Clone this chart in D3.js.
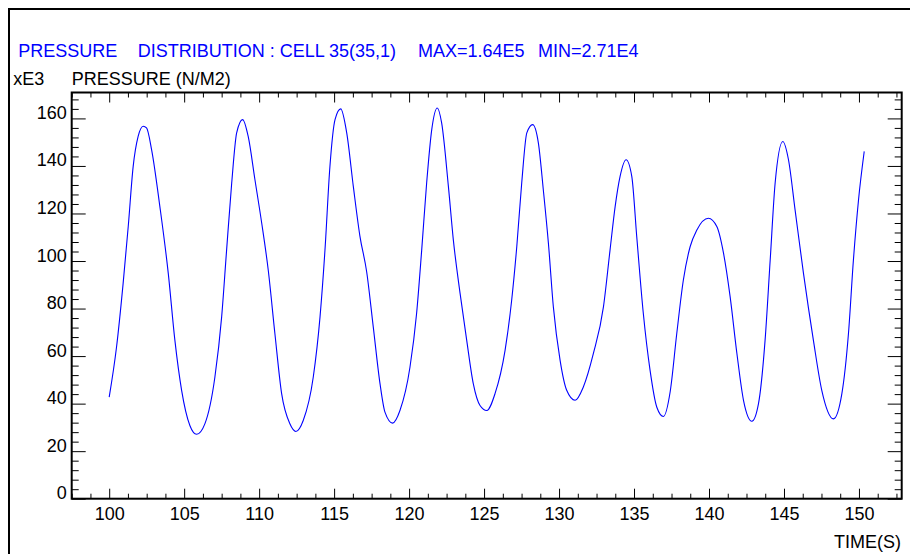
<!DOCTYPE html>
<html>
<head>
<meta charset="utf-8">
<script src="https://cdn.jsdelivr.net/npm/d3@7"></script>
<style>
  body { margin: 0; background: #fff; }
  svg { display: block; font-family: "Liberation Sans", Arial, sans-serif; }
</style>
</head>
<body>
<svg></svg>
<script>
// time (s) and pressure (x1e3 N/m2)
var times = [100.0, 100.49, 100.93, 101.27, 101.6, 101.93, 102.27, 102.49, 102.83, 103.38,
  103.94, 104.38, 104.83, 105.38, 105.83, 106.38, 107.05, 107.5, 107.83, 108.17,
  108.5, 108.9, 109.27, 109.72, 110.17, 110.61, 111.05, 111.5, 112.05, 112.45,
  112.94, 113.61, 114.06, 114.39, 114.72, 115.06, 115.44, 115.84, 116.28, 116.72,
  117.17, 117.61, 118.06, 118.39, 118.9, 119.39, 120.06, 120.5, 120.84, 121.17,
  121.51, 121.88, 122.17, 122.62, 122.95, 123.4, 123.84, 124.28, 124.73, 125.18,
  125.73, 126.4, 126.84, 127.18, 127.51, 127.85, 128.24, 128.62, 128.95, 129.29,
  129.62, 130.07, 130.51, 131.07, 131.62, 132.29, 132.96, 133.4, 133.74, 134.07,
  134.47, 134.85, 135.18, 135.62, 136.07, 136.52, 136.96, 137.41, 137.85, 138.29,
  138.74, 139.19, 139.96, 140.52, 140.97, 141.41, 141.86, 142.3, 142.86, 143.3,
  143.74, 144.08, 144.41, 144.92, 145.3, 145.74, 146.3, 146.96, 147.52, 148.3,
  148.86, 149.3, 149.63, 149.97, 150.35];
var pressure = [42.7, 63.8, 90.6, 114.5, 139.8, 152.4, 156.7, 156.0, 146.8, 122.9,
  94.8, 66.7, 45.6, 30.8, 27.1, 31.5, 51.2, 76.5, 104.6, 132.8,
  153.9, 159.5, 152.4, 134.2, 116.0, 96.0, 69.5, 44.2, 31.5, 28.3,
  32.9, 51.2, 76.5, 104.6, 139.8, 159.5, 164.0, 153.9, 131.4, 110.5,
  95.5, 72.3, 48.4, 36.4, 31.8, 37.1, 55.4, 77.9, 104.6, 132.8,
  155.3, 164.4, 158.1, 131.4, 108.9, 86.4, 66.7, 48.4, 39.2, 37.1,
  44.2, 62.4, 83.5, 106.0, 132.8, 153.9, 157.4, 149.7, 130.0, 107.5,
  80.7, 58.2, 45.6, 41.4, 47.0, 61.1, 80.7, 104.6, 122.9, 135.6,
  142.6, 135.6, 110.3, 77.9, 54.0, 38.5, 34.6, 45.0, 69.5, 92.0,
  106.0, 113.1, 118.0, 114.5, 103.2, 84.9, 61.1, 41.4, 32.6, 40.0,
  66.7, 100.4, 132.8, 150.3, 142.6, 121.5, 94.8, 66.7, 45.6, 33.6,
  44.2, 69.5, 100.4, 125.7, 146.1];

var xMajor = [100, 105, 110, 115, 120, 125, 130, 135, 140, 145, 150];
var yMajor = [0, 20, 40, 60, 80, 100, 120, 140, 160];

var titleParts = ["PRESSURE", "DISTRIBUTION : CELL 35(35,1)", "MAX=1.64E5", "MIN=2.71E4"];

function chart() {
  var width = 910, height = 554;
  var left = 71.7, right = 901.7, top = 92.5, bottom = 498.7;

  var svg = d3.select("svg").attr("width", width).attr("height", height);
  svg.selectAll("*").remove();

  var x = d3.scaleLinear().domain([97.5, 152.85]).range([left, right]);
  var y = d3.scaleLinear().domain([0, 170.9]).range([bottom, top]);

  var xMinor = d3.range(97.5, 152.6, 1.25).filter(function(d) { return Math.abs(d / 5 - Math.round(d / 5)) > 1e-6; });
  var yMinor = d3.range(4, 170, 4).filter(function(d) { return d % 20 != 0; });

  // outer frame (left + top only)
  svg.append("path")
    .attr("d", "M9,554V9H910")
    .attr("fill", "none").attr("stroke", "#000").attr("stroke-width", 2);

  // plot box
  svg.append("rect")
    .attr("x", left).attr("y", top)
    .attr("width", right - left).attr("height", bottom - top)
    .attr("fill", "none").attr("stroke", "#000").attr("stroke-width", 2);

  function ticks(axis, pos, vals, size) {
    var g = svg.append("g").attr("transform", pos)
      .call(axis.tickValues(vals).tickSize(size).tickFormat(""));
    g.select(".domain").remove();
    g.selectAll("line").attr("stroke", "#000").attr("stroke-width", 1);
    return g;
  }

  ticks(d3.axisBottom(x), "translate(0," + bottom + ")", xMinor, -5);
  ticks(d3.axisTop(x), "translate(0," + top + ")", xMinor, -5);
  ticks(d3.axisTop(x), "translate(0," + top + ")", xMajor, -10);
  ticks(d3.axisLeft(y), "translate(" + left + ",0)", yMinor, -7);
  ticks(d3.axisRight(y), "translate(" + right + ",0)", yMinor, -7);
  ticks(d3.axisRight(y), "translate(" + right + ",0)", yMajor, -14);

  var xb = svg.append("g").attr("transform", "translate(0," + bottom + ")")
    .call(d3.axisBottom(x).tickValues(xMajor).tickSize(-10).tickFormat(d3.format("d")));
  xb.select(".domain").remove();
  xb.selectAll("line").attr("stroke", "#000");
  xb.selectAll("text").attr("y", 21.5).attr("dy", 0)
    .attr("font-size", 18).attr("font-family", "Liberation Sans, Arial, sans-serif").attr("fill", "#000");

  var yl = svg.append("g").attr("transform", "translate(" + left + ",0)")
    .call(d3.axisLeft(y).tickValues(yMajor).tickSize(-14).tickFormat(d3.format("d")));
  yl.select(".domain").remove();
  yl.selectAll("line").attr("stroke", "#000");
  yl.selectAll("text").attr("x", -5).attr("dy", 0)
    .attr("font-size", 18).attr("font-family", "Liberation Sans, Arial, sans-serif").attr("fill", "#000");

  // curve
  var pts = times.map(function(t, i) { return [t, pressure[i]]; });
  var line = d3.line()
    .x(function(d) { return x(d[0]); })
    .y(function(d) { return y(d[1]); })
    .curve(d3.curveMonotoneX);

  svg.append("path")
    .datum(pts)
    .attr("d", line)
    .attr("fill", "none")
    .attr("stroke", "#0000ff")
    .attr("stroke-width", 1.1);

  // texts
  var titleX = [18.3, 137.7, 418, 538];
  svg.selectAll(".title").data(titleParts).enter().append("text")
    .attr("class", "title")
    .attr("x", function(d, i) { return titleX[i]; })
    .attr("y", 57)
    .attr("font-size", 18)
    .attr("fill", "#0000ff")
    .text(function(d) { return d; });

  svg.append("text").attr("x", 13.3).attr("y", 85).attr("font-size", 18).text("xE3");
  svg.append("text").attr("x", 71.7).attr("y", 85).attr("font-size", 18).text("PRESSURE (N/M2)");
  svg.append("text").attr("x", 901).attr("y", 548).attr("font-size", 18)
    .attr("text-anchor", "end").text("TIME(S)");
}

chart();
</script>
</body>
</html>
